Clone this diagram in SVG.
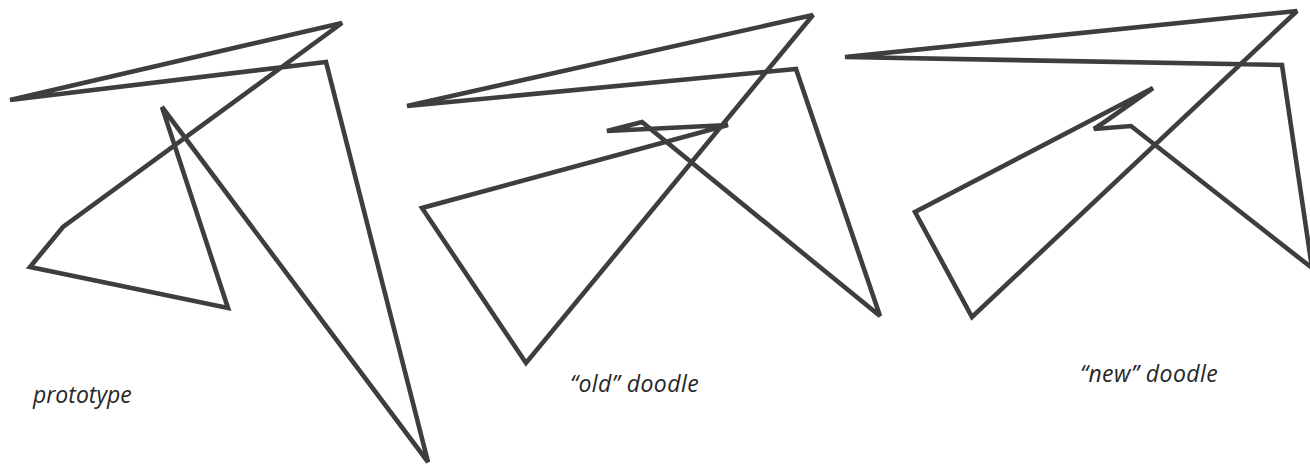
<svg xmlns="http://www.w3.org/2000/svg" width="1310" height="464" viewBox="0 0 1310 464">
<style>
.doodle{fill:none;stroke:#3e3e3e;stroke-width:4.6;stroke-linejoin:miter;stroke-miterlimit:3}
.label{font-family:"Open Sans","DejaVu Sans",sans-serif;font-style:italic;font-size:23px;fill:#262626}
.wide{letter-spacing:0.45px}
</style>
<rect width="1310" height="464" fill="#fff"/>
<g id="prototype">
<polygon class="doodle" points="10,100 342,23 63,227 30,267 228,308 162,107 428,462 326,62"/>
<text class="label" x="33" y="403">prototype</text>
</g>
<g id="old-doodle">
<polygon class="doodle" points="407,106 813,15 526,363 422,208 728,125 607,131 642,122 880,316 796,69"/>
<text class="label wide" x="570" y="392">“old” doodle</text>
</g>
<g id="new-doodle">
<polygon class="doodle" points="845,57 1297,11 972,317 915,212 1153,88 1106,121 1094,129 1131,126 1312,268 1282,65"/>
<text class="label wide" x="1080" y="382">“new” doodle</text>
</g>
</svg>
